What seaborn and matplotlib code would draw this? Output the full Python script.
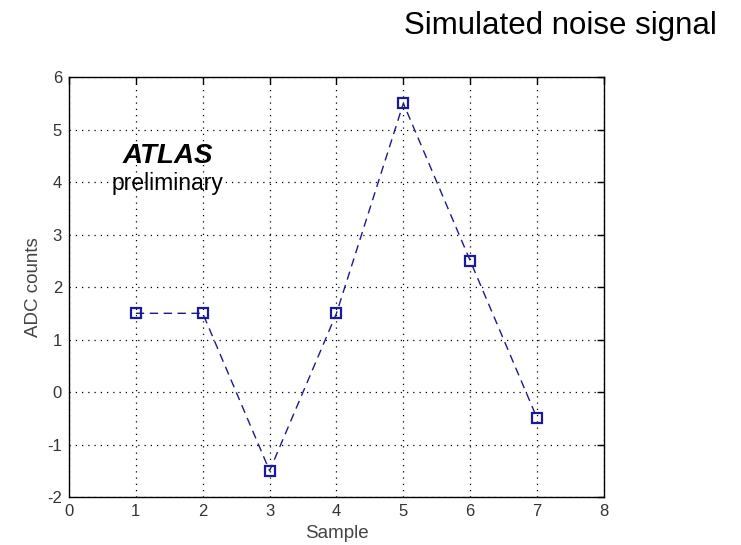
import matplotlib
matplotlib.use("Agg")
import matplotlib.pyplot as plt
import seaborn as sns
import pandas as pd

samples = [1, 2, 3, 4, 5, 6, 7]
adc_counts = [1.5, 1.5, -1.5, 1.5, 5.5, 2.5, -0.5]
x_ticks = [0, 1, 2, 3, 4, 5, 6, 7, 8]
y_ticks = [-2, -1, 0, 1, 2, 3, 4, 5, 6]

sns.set_style("white")
plt.rcParams['font.family'] = ['Liberation Sans', 'DejaVu Sans']
plt.rcParams['axes.unicode_minus'] = False

df = pd.DataFrame({"Sample": samples, "ADC counts": adc_counts})

fig = plt.figure(figsize=(7.41, 5.45), dpi=100)
ax = fig.add_axes([0.0931, 0.088, 0.722, 0.7706])

sns.lineplot(data=df, x="Sample", y="ADC counts", ax=ax, color="#1a1a8c",
             linestyle=(0, (6, 4)), linewidth=1.0, marker="s", markersize=7,
             markerfacecolor="none", markeredgecolor="#1a1a9c", markeredgewidth=1.6)

ax.set_xlim(0, 8)
ax.set_ylim(-2, 6)
ax.set_xticks(x_ticks)
ax.set_yticks(y_ticks)
ax.set_xticklabels([str(v) for v in x_ticks])
ax.set_yticklabels([str(v) for v in y_ticks])
ax.grid(True, color="black", linestyle=(0, (1, 4)), linewidth=0.9)
ax.tick_params(direction="in", top=True, right=True, length=5, width=1,
               labelsize=12, labelcolor="#333333", color="black", pad=5)
for s in ax.spines.values():
    s.set_visible(True)
    s.set_color("black")
    s.set_linewidth(1.0)
ax.set_xlabel("Sample", fontsize=13.5, color="#444444", labelpad=4)
ax.set_ylabel("ADC counts", fontsize=13.5, color="#444444", labelpad=4)

ax.text(1.48, 4.36, "ATLAS", fontsize=20, fontweight="bold", fontstyle="italic",
        ha="center", va="baseline", color="black")
ax.text(1.48, 3.85, "preliminary", fontsize=16.5, ha="center", va="baseline", color="black")

fig.text(0.968, 0.952, "Simulated noise signal", fontsize=22.5, ha="right", va="center",
         color="black")

fig.savefig("out.png", dpi=100)
